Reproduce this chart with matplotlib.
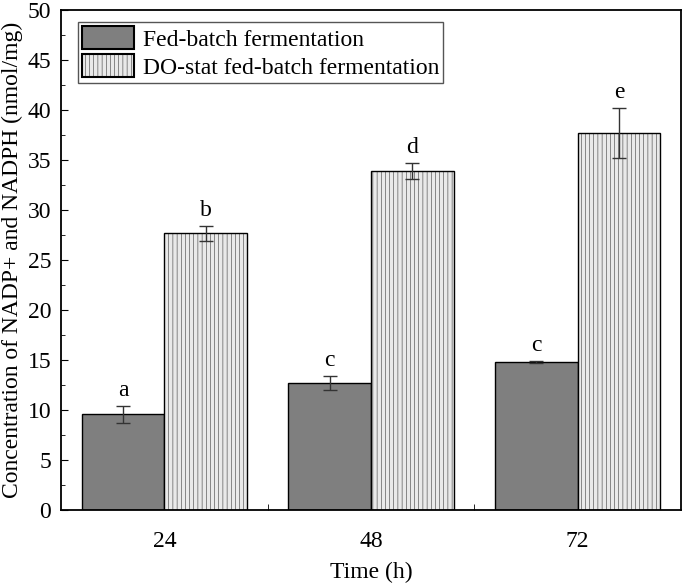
import matplotlib
matplotlib.use("Agg")
import matplotlib.pyplot as plt
import numpy as np
from matplotlib.ticker import MultipleLocator, FixedLocator

times = ["24", "48", "72"]
fed_batch = [9.6, 12.7, 14.8]
fed_batch_err = [0.85, 0.7, 0.1]
do_stat = [27.7, 33.9, 37.7]
do_stat_err = [0.75, 0.8, 2.45]
fed_letters = ["a", "c", "c"]
do_letters = ["b", "d", "e"]

plt.rcParams['font.family'] = ['Liberation Serif', 'DejaVu Serif']
plt.rcParams['hatch.linewidth'] = 0.3
plt.rcParams['hatch.color'] = '#dedede'

fig = plt.figure(figsize=(6.85, 5.83), dpi=100)
ax = fig.add_axes([61/685, 1 - 510/583, 620/685, 500/583])

x = np.arange(len(times))
w = 0.4
ax.bar(x - w/2, fed_batch, w, color='#7f7f7f', edgecolor='black', linewidth=1.0,
       label='Fed-batch fermentation')
ax.bar(x + w/2, do_stat, w, color='#e9e9e9', edgecolor='black', linewidth=1.0,
       hatch='||||', label='DO-stat fed-batch fermentation')
ax.errorbar(x - w/2, fed_batch, yerr=fed_batch_err, fmt='none', ecolor='#333333',
            elinewidth=1.0, capsize=5, capthick=1.0)
ax.errorbar(x + w/2, do_stat, yerr=do_stat_err, fmt='none', ecolor='#333333',
            elinewidth=1.0, capsize=5, capthick=1.0)

for xi, v, e, t in zip(x - w/2, fed_batch, fed_batch_err, fed_letters):
    ax.text(xi, v + e + 0.5, t, ha='center', va='bottom', fontsize=17)
for xi, v, e, t in zip(x + w/2, do_stat, do_stat_err, do_letters):
    ax.text(xi, v + e + 0.5, t, ha='center', va='bottom', fontsize=17)

ax.set_xlim(-0.5, 2.5)
ax.set_ylim(0, 50)
ax.set_xticks(x)
ax.set_xticklabels(times)
ax.xaxis.set_minor_locator(FixedLocator([0.5, 1.5]))
ax.yaxis.set_major_locator(MultipleLocator(5))
ax.yaxis.set_minor_locator(MultipleLocator(2.5))
ax.tick_params(axis='both', which='both', direction='in', labelsize=17)
ax.tick_params(axis='x', which='major', length=0, pad=15)
ax.tick_params(axis='x', which='minor', length=4)
ax.tick_params(axis='y', which='major', length=5, pad=7)
ax.tick_params(axis='y', which='minor', length=3)
for s in ax.spines.values():
    s.set_linewidth(1.3)

ax.set_xlabel('Time (h)', fontsize=17, labelpad=7)
ax.set_ylabel('Concentration of NADP+ and NADPH (nmol/mg)', fontsize=17, labelpad=3)

leg = ax.legend(loc='upper left', bbox_to_anchor=(0.02, 0.985), fontsize=17, frameon=True,
                fancybox=False, edgecolor='#555555', framealpha=1, handlelength=2.2,
                handleheight=1.1, borderpad=0.18, labelspacing=0.15, handletextpad=0.35,
                borderaxespad=0.2)
for h in leg.legend_handles:
    h.set_linewidth(1.5)

fig.savefig('out.png', dpi=100)
